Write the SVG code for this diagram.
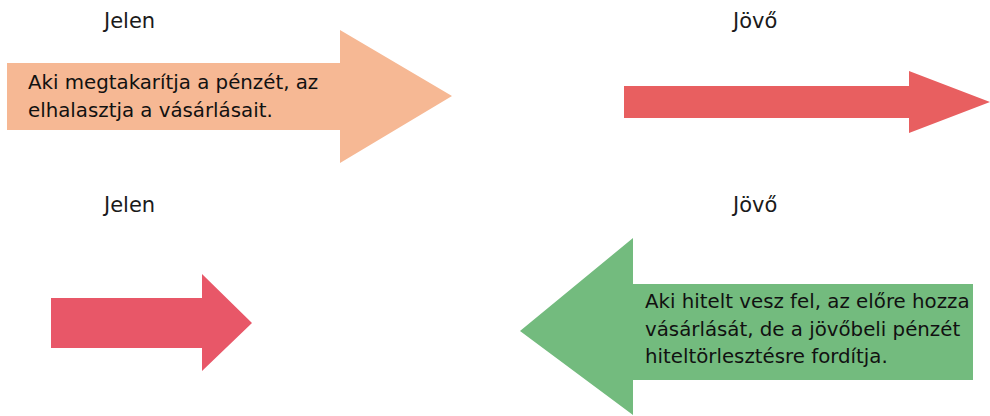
<svg xmlns="http://www.w3.org/2000/svg" width="990" height="416" viewBox="0 0 990 416">
<style>
.lbl{font-family:"DejaVu Sans",sans-serif;font-size:21px;fill:#1a1a1a}
.txt{font-family:"DejaVu Sans",sans-serif;font-size:19.8px;fill:#111}
</style>
<rect width="990" height="416" fill="#fff"/>
<g id="labels">
<text class="lbl" x="104" y="28">Jelen</text>
<text class="lbl" x="733" y="28">Jövő</text>
<text class="lbl" x="104" y="212">Jelen</text>
<text class="lbl" x="733" y="212">Jövő</text>
</g>
<g id="connectors">
<polygon id="arrow-present-top" points="7,63 340,63 340,30 452,96 340,163 340,130 7,130" fill="#F6B894"/>
<polygon id="arrow-future-top" points="624,86 909,86 909,71 990,102 909,133 909,118 624,118" fill="#E85F60"/>
<polygon id="arrow-present-bottom" points="51,298 202,298 202,274 252,323 202,371 202,348 51,348" fill="#E85768"/>
<polygon id="arrow-future-bottom" points="973,284 633,284 633,238 520,331 633,415 633,380 973,380" fill="#73BB7E"/>
</g>
<g id="node-save">
<text class="txt" x="28" y="89">Aki megtakarítja a pénzét, az</text>
<text class="txt" x="28" y="117">elhalasztja a vásárlásait.</text>
</g>
<g id="node-credit">
<text class="txt" x="645" y="308">Aki hitelt vesz fel, az előre hozza</text>
<text class="txt" x="645" y="336">vásárlását, de a jövőbeli pénzét</text>
<text class="txt" x="645" y="363">hiteltörlesztésre fordítja.</text>
</g>
</svg>
